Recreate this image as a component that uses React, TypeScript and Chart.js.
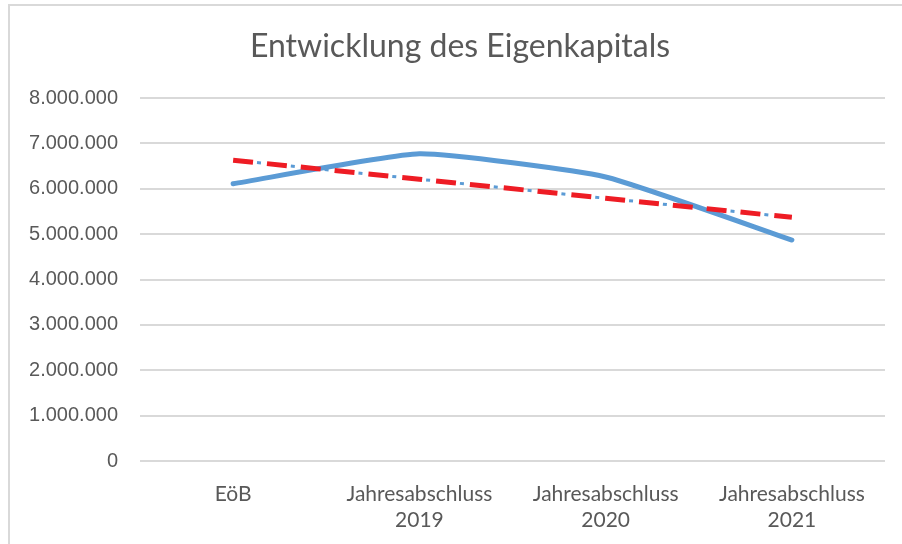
import React, { useEffect, useRef } from "react";
import { Chart, registerables } from "chart.js";

Chart.register(...registerables);

const categories: (string | string[])[] = [
  "EöB",
  ["Jahresabschluss", "2019"],
  ["Jahresabschluss", "2020"],
  ["Jahresabschluss", "2021"],
];
const eigenkapital = [6110000, 6770000, 6260000, 4870000];
const trend = [6630000, 6210000, 5790000, 5370000];
const yTicks = [0, 1000000, 2000000, 3000000, 4000000, 5000000, 6000000, 7000000, 8000000];
const title = "Entwicklung des Eigenkapitals";

const FONT = "Lato, 'Open Sans', sans-serif";
const YFONT = "'Liberation Sans', Arial, sans-serif";
const TEXT = "#595959";

const fmt = (v: number) => (v === 0 ? "0" : v.toLocaleString("de-DE"));

const framePlugin = {
  id: "frame",
  beforeDraw(chart: any) {
    const ctx = chart.ctx;
    ctx.save();
    ctx.fillStyle = "#ffffff";
    ctx.fillRect(0, 0, chart.width, chart.height);
    ctx.strokeStyle = "#d9d9d9";
    ctx.lineWidth = 2;
    ctx.beginPath();
    ctx.moveTo(9, chart.height);
    ctx.lineTo(9, 5);
    ctx.lineTo(chart.width, 5);
    ctx.stroke();
    ctx.restore();
  },
  afterDraw(chart: any) {
    const ctx = chart.ctx;
    ctx.save();
    ctx.fillStyle = TEXT;
    ctx.font = `32px ${FONT}`;
    ctx.textAlign = "center";
    ctx.textBaseline = "middle";
    ctx.fillText(title, 460, 47);
    ctx.restore();
  },
};

export default function App() {
  const ref = useRef<HTMLCanvasElement | null>(null);
  useEffect(() => {
    if (!ref.current) return;
    const chart = new Chart(ref.current, {
      type: "line",
      data: {
        labels: categories,
        datasets: [
          {
            label: "Eigenkapital",
            data: eigenkapital,
            borderColor: "#5b9bd5",
            borderWidth: 5,
            pointRadius: 0,
            tension: 0.15,
            borderCapStyle: "round",
            order: 3,
          },
          {
            label: "Trend (blau)",
            data: trend,
            borderColor: "#5b9bd5",
            borderWidth: 3,
            borderDash: [4, 30],
            borderDashOffset: -24,
            pointRadius: 0,
            order: 2,
          },
          {
            label: "Trend",
            data: trend,
            borderColor: "#ee1c24",
            borderWidth: 5,
            borderDash: [20, 14],
            pointRadius: 0,
            order: 1,
          },
        ],
      },
      options: {
        animation: false,
        responsive: false,
        maintainAspectRatio: false,
        layout: { padding: { left: 0, right: 17, top: 98, bottom: 0 } },
        plugins: {
          legend: { display: false },
          tooltip: { enabled: false },
          title: { display: false },
        },
        scales: {
          x: {
            offset: true,
            grid: { display: false, drawTicks: false },
            border: { display: false },
            ticks: {
              color: TEXT,
              font: { family: FONT, size: 21, lineHeight: 1.25 },
              padding: 20,
              maxRotation: 0,
              autoSkip: false,
            },
            afterFit(scale: any) {
              scale.height = 83;
            },
          },
          y: {
            min: 0,
            max: 8000000,
            afterBuildTicks(scale: any) {
              scale.ticks = yTicks.map((v) => ({ value: v }));
            },
            grid: { color: "#d9d9d9", lineWidth: 2, drawTicks: false },
            border: { display: false },
            ticks: {
              color: TEXT,
              font: { family: YFONT, size: 20 },
              padding: 22,
              callback: (v: any) => fmt(Number(v)),
            },
            afterFit(scale: any) {
              scale.width = 140;
            },
          },
        },
      },
      plugins: [framePlugin],
    });
    return () => chart.destroy();
  }, []);
  return (
    <div style={{ position: "fixed", left: 0, top: 0, width: 902, height: 544, background: "#fff" }}>
      <canvas ref={ref} width={902} height={544} style={{ width: 902, height: 544 }} />
    </div>
  );
}
